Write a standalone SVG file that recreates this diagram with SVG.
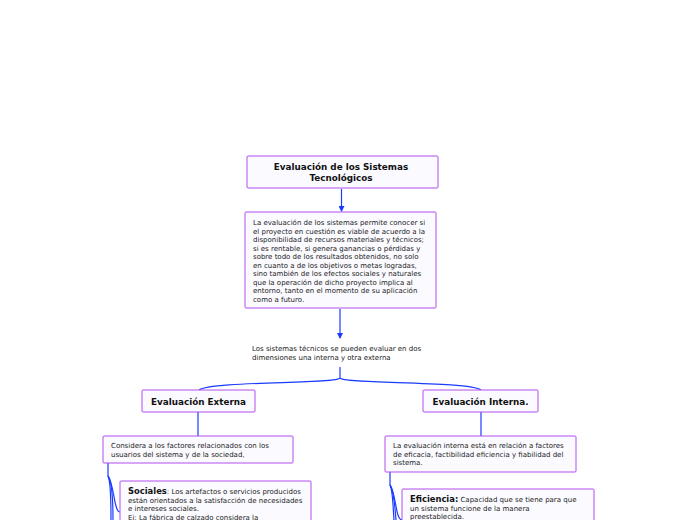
<svg xmlns="http://www.w3.org/2000/svg" width="696" height="520" viewBox="0 0 696 520">
<defs>
<style>
.box{fill:#fbfbff;stroke:#b14ef0;stroke-width:1}
.t{font-family:"DejaVu Sans",Verdana,sans-serif;font-size:7px;fill:#1a1a1a}
.tb{font-family:"DejaVu Sans",Verdana,sans-serif;font-size:8.8px;font-weight:bold;fill:#111}
.c{fill:none;stroke:#1a3cff;stroke-width:1.2}
</style>
<marker id="ah" markerWidth="6" markerHeight="6" refX="5" refY="3" orient="auto" markerUnits="userSpaceOnUse">
<path d="M0,0 L6,3 L0,6 z" fill="#1a3cff"/>
</marker>
</defs>
<rect width="696" height="520" fill="#ffffff"/>
<g id="connectors">
<line class="c" x1="341.5" y1="189" x2="341.5" y2="211" marker-end="url(#ah)"/>
<line class="c" x1="340" y1="309" x2="340" y2="338" marker-end="url(#ah)"/>
<path class="c" d="M340,367 L340,378 C338,384 210,381 199,390"/>
<path class="c" d="M340,378 C342,384 470,381 481,390"/>
<line class="c" x1="198" y1="412" x2="198" y2="436"/>
<line class="c" x1="481" y1="412" x2="481" y2="436"/>
<path class="c" d="M108,463 L108,476 C112,480 114,500 116,506 C117,510 119,512 120,512"/>
<path class="c" d="M108,476 C111,482 111,500 111,520"/>
<path class="c" d="M108,476 C112,482 113,500 113,520"/>
<path class="c" d="M390,472 L390,485 C394,489 396,510 398,515 C399,518 401,520 402,520"/>
<path class="c" d="M390,485 C393,491 393,508 394,520"/>
<path class="c" d="M390,485 C394,491 395,508 396,520"/>
</g>
<g id="title">
<rect class="box" x="247" y="156" width="191" height="32" rx="1"/>
<text class="tb" x="341" y="170" text-anchor="middle">Evaluación de los Sistemas</text>
<text class="tb" x="341" y="181" text-anchor="middle">Tecnológicos</text>
</g>
<g id="descripcion">
<rect class="box" x="245" y="212" width="191" height="96" rx="1"/>
<text class="t" x="253" y="225">La evaluación de los sistemas permite conocer si</text>
<text class="t" x="253" y="233.5">el proyecto en cuestión es viable de acuerdo a la</text>
<text class="t" x="253" y="242">disponibilidad de recursos materiales y técnicos;</text>
<text class="t" x="253" y="250.5">si es rentable, si genera ganancias o pérdidas y</text>
<text class="t" x="253" y="259">sobre todo de los resultados obtenidos, no solo</text>
<text class="t" x="253" y="267.5">en cuanto a de los objetivos o metas logradas,</text>
<text class="t" x="253" y="276">sino también de los efectos sociales y naturales</text>
<text class="t" x="253" y="284.5">que la operación de dicho proyecto implica al</text>
<text class="t" x="253" y="293">entorno, tanto en el momento de su aplicación</text>
<text class="t" x="253" y="301.5">como a futuro.</text>
</g>
<g id="dimensiones">
<text class="t" x="252" y="351">Los sistemas técnicos se pueden evaluar en dos</text>
<text class="t" x="252" y="360">dimensiones una interna y otra externa</text>
</g>
<g id="externa">
<rect class="box" x="142" y="390" width="113" height="22" rx="1"/>
<text class="tb" x="198.5" y="404.5" text-anchor="middle">Evaluación Externa</text>
</g>
<g id="considera">
<rect class="box" x="103" y="436" width="190" height="27" rx="1"/>
<text class="t" x="111" y="447.5">Considera a los factores relacionados con los</text>
<text class="t" x="111" y="456.5">usuarios del sistema y de la sociedad,</text>
</g>
<g id="interna">
<rect class="box" x="423" y="390" width="115" height="22" rx="1"/>
<text class="tb" x="480.5" y="404.5" text-anchor="middle">Evaluación Interna.</text>
</g>
<g id="interna-desc">
<rect class="box" x="385" y="436" width="191" height="36" rx="1"/>
<text class="t" x="393" y="447.5"> La evaluación interna está en relación a factores</text>
<text class="t" x="393" y="456.5">de eficacia, factibilidad eficiencia y fiabilidad del</text>
<text class="t" x="393" y="465">sistema.</text>
</g>
<g id="sociales">
<rect class="box" x="120" y="481" width="191" height="50" rx="1"/>
<text class="t" x="128" y="494"><tspan style="font-weight:bold;font-size:8.4px;fill:#111">Sociales</tspan>: Los artefactos o servicios producidos</text>
<text class="t" x="128" y="502.5">están orientados a la satisfacción de necesidades</text>
<text class="t" x="128" y="511">e intereses sociales.</text>
<text class="t" x="128" y="519.5">Ej: La fábrica de calzado considera la</text>
</g>
<g id="eficiencia">
<rect class="box" x="402" y="489" width="192" height="42" rx="1"/>
<text class="t" x="410" y="502"><tspan style="font-weight:bold;font-size:8.4px;fill:#111">Eficiencia:</tspan> Capacidad que se tiene para que</text>
<text class="t" x="410" y="510.5">un sistema funcione de la manera</text>
<text class="t" x="410" y="519">preestablecida.</text>
</g>
</svg>
